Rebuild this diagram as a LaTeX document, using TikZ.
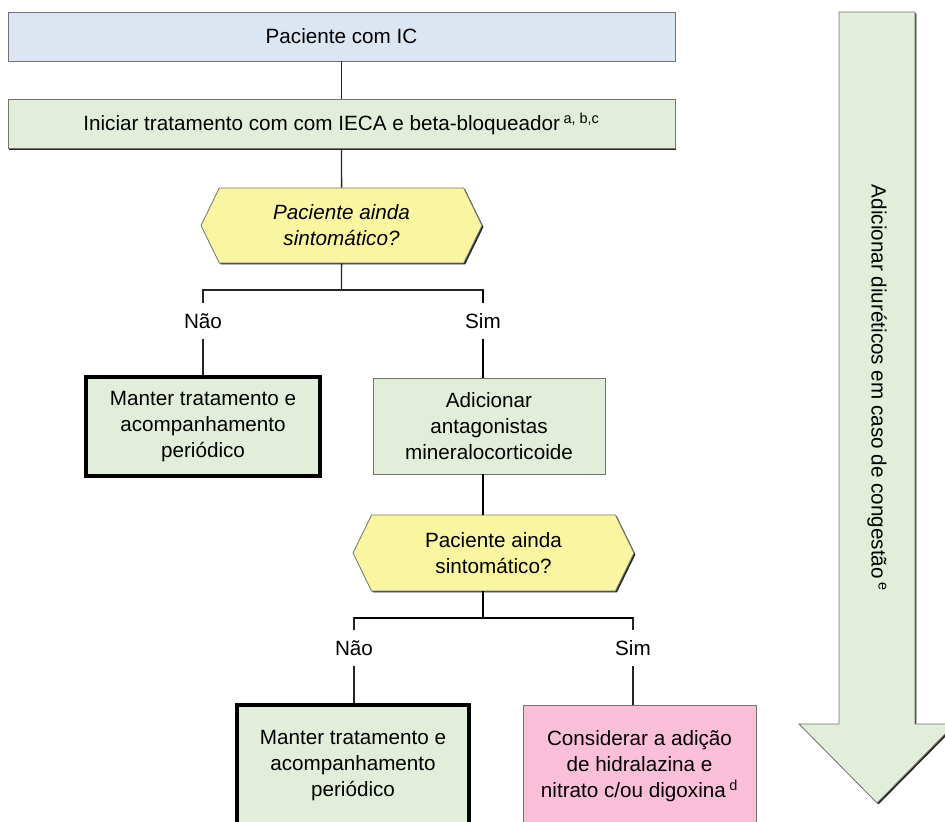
\documentclass[tikz,border=0pt]{standalone}
\usepackage{fontspec}
\setmainfont{Liberation Sans}
\usepackage{xcolor}
\usepackage{tikz}
\usetikzlibrary{shapes,shapes.symbols,positioning,calc,shadows}

\definecolor{icblue}{HTML}{DCE6F2}
\definecolor{txgreen}{HTML}{E3EEDA}
\definecolor{askyellow}{HTML}{FAF5A0}
\definecolor{optpink}{HTML}{FBBFD9}

\tikzstyle{conn} = [line width=1.1pt, black!85]
\tikzstyle{boldconn} = [line width=2.2pt, black]
\tikzstyle{boxshadow} = [drop shadow={shadow xshift=1.1pt, shadow yshift=-1.1pt, fill=black!85, opacity=1}]
\tikzstyle{box} = [rectangle, draw=black!55, line width=0.6pt, boxshadow, inner sep=0pt, align=center]
\tikzstyle{keepbox} = [rectangle, draw=black, line width=2.4pt, fill=txgreen, inner sep=0pt, align=center]
\tikzstyle{ask} = [signal, signal to=west and east, signal pointer angle=128, draw=black!55, line width=0.6pt, boxshadow, fill=askyellow, inner sep=0pt, align=center]
\tikzstyle{answer} = [rectangle, inner sep=0pt, minimum height=27pt]

\begin{document}
\begin{tikzpicture}[x=0.75pt, y=-0.75pt, font=\fontsize{15.5}{19.5}\selectfont]
    \useasboundingbox (0,0) rectangle (945,821);
    \clip (0,0) rectangle (945,821);

    % Start
    \node[box, fill=icblue, minimum width=500.25pt, minimum height=36.75pt] (ic) at (341.5,36.5) {Paciente com IC};
    \node[box, fill=txgreen, minimum width=500.25pt, minimum height=36.75pt] (ini) at (341.5,124) {Iniciar tratamento com com IECA e beta-bloqueador\,\textsuperscript{a, b,c}};

    % First question
    \node[ask, minimum width=210.75pt, minimum height=56.25pt, font=\fontsize{15.5}{19.5}\selectfont\itshape] (q1) at (341.5,225.5) {Paciente ainda\\sintomático?};
    \coordinate (j1) at (341.5,290);
    \node[answer] (nao1) at (203,321) {Não};
    \node[answer] (sim1) at (483,321) {Sim};

    \node[keepbox, minimum width=175.5pt, minimum height=74.25pt] (keep1) at (203,426.5) {Manter tratamento e\\acompanhamento\\periódico};
    \node[box, fill=txgreen, minimum width=174pt, minimum height=72pt] (mra) at (489,426) {Adicionar\\antagonistas\\mineralocorticoide};

    % Second question
    \node[ask, minimum width=210.75pt, minimum height=57pt] (q2) at (493.5,553) {Paciente ainda\\sintomático?};
    \coordinate (j2) at (483,618);
    \node[answer] (nao2) at (354,648) {Não};
    \node[answer] (sim2) at (633,648) {Sim};

    \node[keepbox, minimum width=174pt, minimum height=91.5pt] (keep2) at (353,766) {Manter tratamento e\\acompanhamento\\periódico};
    \node[box, fill=optpink, minimum width=174.75pt, minimum height=91.5pt] (cons) at (639.5,766) {Considerar a adição\\de hidralazina e\\nitrato c/ou digoxina\,\textsuperscript{d}};

    % Diuretics arrow
    \draw[draw=black!55, line width=0.6pt, fill=txgreen, boxshadow] (839,12) -- (915,12) -- (915,724) -- (955,724) -- (877,803) -- (799,724) -- (839,724) -- cycle;
    \node[rotate=-90] (diur) at (877,388) {Adicionar diuréticos em caso de congestão\,\textsuperscript{e}};

    % Connectors
    \draw[conn] (ic) -- (ini);
    \draw[conn] (ini) -- (q1);
    \draw[conn] (q1) -- (j1);
    \draw[conn] (nao1) |- (j1) -| (sim1);
    \draw[boldconn] (sim1) -- (sim1 |- j1);
    \draw[conn] (nao1) -- (keep1);
    \draw[boldconn] (sim1) -- (sim1 |- mra.north);
    \draw[boldconn] (mra.south -| sim1) -- (sim1 |- q2.north);
    \draw[boldconn] (q2.south -| sim1) -- (j2);
    \draw[conn] (nao2) |- (j2) -| (sim2);
    \draw[boldconn] (nao2 |- j2) -- (sim2 |- j2);
    \draw[conn] (nao2) -- (nao2 |- keep2.north);
    \draw[conn] (sim2) -- (sim2 |- cons.north);
\end{tikzpicture}
\end{document}
